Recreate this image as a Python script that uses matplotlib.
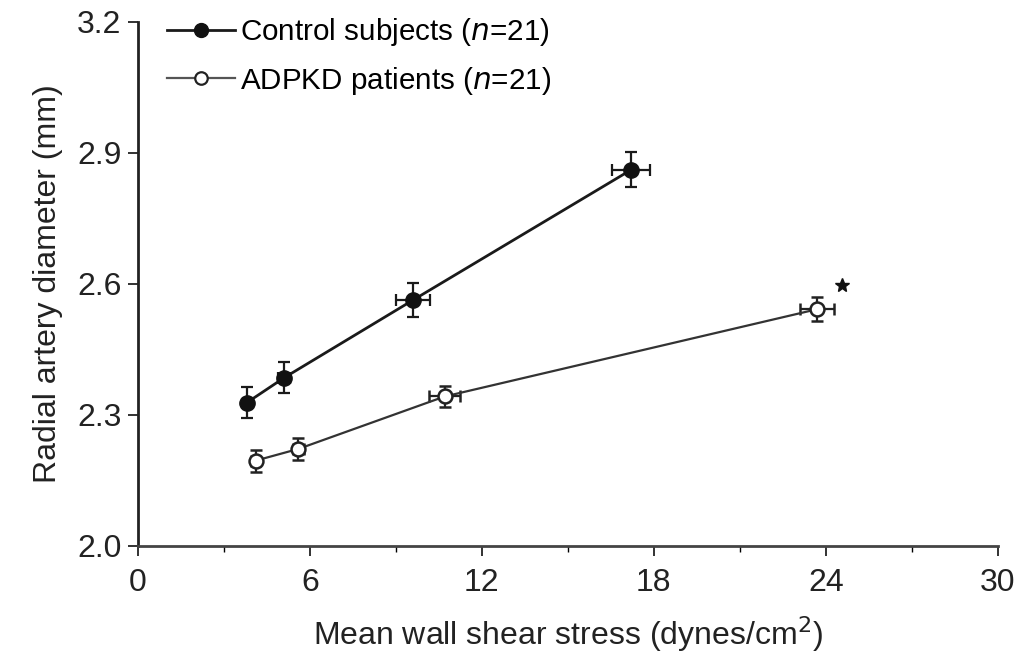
import matplotlib
matplotlib.use("Agg")
import matplotlib.pyplot as plt
from matplotlib.lines import Line2D

plt.rcParams['font.family'] = ['Liberation Sans', 'DejaVu Sans']

# Control subjects
ctrl_x = [3.8, 5.1, 9.6, 17.2]
ctrl_y = [2.328, 2.385, 2.563, 2.861]
ctrl_xerr = [0.15, 0.2, 0.6, 0.65]
ctrl_yerr = [0.035, 0.035, 0.04, 0.04]

# ADPKD patients
adpkd_x = [4.1, 5.6, 10.7, 23.7]
adpkd_y = [2.195, 2.222, 2.342, 2.542]
adpkd_xerr = [0.15, 0.2, 0.55, 0.6]
adpkd_yerr = [0.025, 0.025, 0.025, 0.027]

star_pos = (24.55, 2.597)

xticks = [0, 6, 12, 18, 24, 30]
yticks = [2.0, 2.3, 2.6, 2.9, 3.2]
labels = ['Control subjects ($n$=21)', 'ADPKD patients ($n$=21)']

FS_TICK = 23
FS_LAB = 23
FS_LEG = 21.3

fig = plt.figure(figsize=(10.26, 6.64), dpi=100)
ax = fig.add_axes([0.1345, 0.178, 0.838, 0.789])

ax.errorbar(ctrl_x, ctrl_y, xerr=ctrl_xerr, yerr=ctrl_yerr, fmt='-o',
            color='#1a1a1a', ecolor='#1a1a1a', lw=2.0, elinewidth=1.6,
            capsize=4.5, capthick=1.6, markersize=11,
            markerfacecolor='#111111', markeredgecolor='#111111', zorder=3)
ax.errorbar(adpkd_x, adpkd_y, xerr=adpkd_xerr, yerr=adpkd_yerr, fmt='-o',
            color='#333333', ecolor='#222222', lw=1.6, elinewidth=1.6,
            capsize=4.5, capthick=1.6, markersize=10,
            markerfacecolor='white', markeredgecolor='#222222',
            markeredgewidth=1.8, zorder=3)

ax.plot([star_pos[0]], [star_pos[1]], marker='*', markersize=10,
        color='#111111', linestyle='none')

ax.set_xlim(0, 30)
ax.set_ylim(2.0, 3.2)
ax.set_xticks(xticks)
ax.set_xticks([3, 9, 15, 21, 27], minor=True)
ax.set_yticks(yticks)
ax.set_yticklabels([f'{v:.1f}' for v in yticks])
ax.tick_params(axis='both', labelsize=FS_TICK, direction='out', length=7,
               width=1.3, colors='#222222', pad=5)
ax.tick_params(axis='x', which='minor', length=4, width=1.0)
ax.tick_params(axis='x', pad=9)
for s in ['top', 'right']:
    ax.spines[s].set_visible(False)
ax.spines['left'].set_linewidth(2.0)
ax.spines['bottom'].set_linewidth(2.0)
ax.spines['bottom'].set_color('#444444')
ax.spines['left'].set_color('#222222')

ax.set_xlabel('Mean wall shear stress (dynes/cm$^2$)', fontsize=FS_LAB,
              labelpad=12, color='#222222')
ax.set_ylabel('Radial artery diameter (mm)', fontsize=FS_LAB, labelpad=10,
              color='#222222')

handles = [
    Line2D([], [], color='#1a1a1a', lw=2.0, marker='o', markersize=10,
           markerfacecolor='#111111', markeredgecolor='#111111'),
    Line2D([], [], color='#555555', lw=1.6, marker='o', markersize=9,
           markerfacecolor='white', markeredgecolor='#222222',
           markeredgewidth=1.6),
]
leg = ax.legend(handles, labels, loc='upper left', bbox_to_anchor=(0.01, 1.05),
                frameon=False, fontsize=FS_LEG, handlelength=2.3,
                handletextpad=0.15, labelspacing=0.55, borderaxespad=0.3)

fig.savefig('out.png', dpi=100)
